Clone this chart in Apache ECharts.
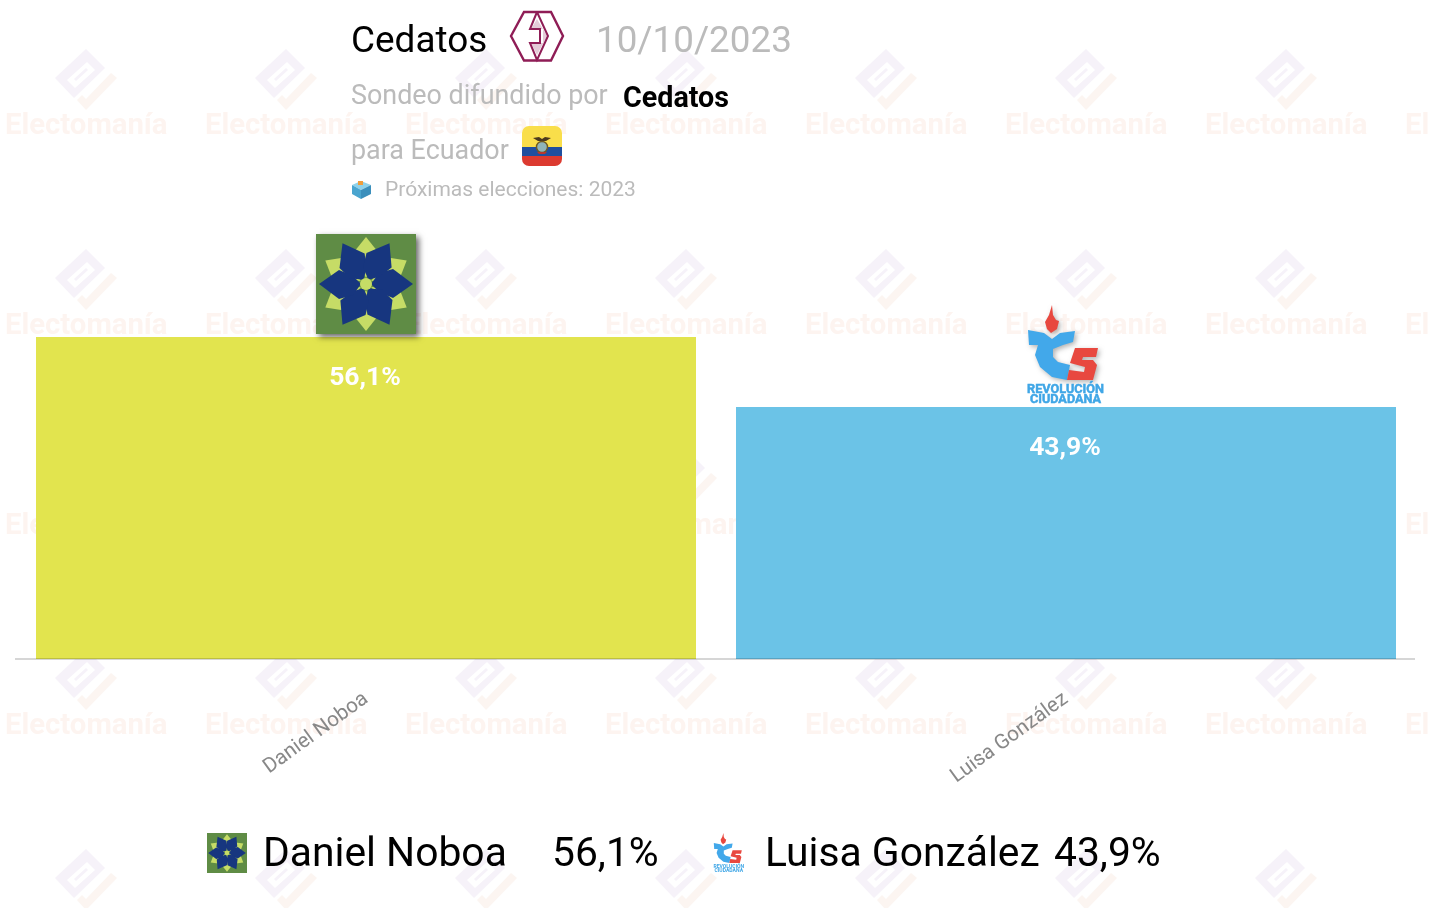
<!DOCTYPE html>
<html><head><meta charset="utf-8">
<style>html,body{margin:0;padding:0;background:#fff}#c{width:1430px;height:908px}</style>
<script src="https://cdn.jsdelivr.net/npm/echarts@6/dist/echarts.min.js"></script>
</head><body><div id="c"></div>
<script>
const candidates = ['Daniel Noboa', 'Luisa González'];
const voteShare = [56.1, 43.9];
const pollster = 'Cedatos';
const pollDate = '10/10/2023';
const subtitleLead = 'Sondeo difundido por';
const subtitleCountry = 'para Ecuador';
const nextElection = 'Próximas elecciones: 2023';
const watermarkText = 'Electomanía';

const FONT = 'Roboto';
const fmt = v => v.toFixed(1).replace('.', ',') + '%';
const g = [];
const txt = (x, y, text, size, fill, weight, z, extra) => g.push({type:'text', x, y, z: z===undefined?10:z, silent:true,
  style:Object.assign({text, fontFamily:FONT, fontSize:size, fontWeight:weight||'normal', fill, verticalAlign:'middle'}, extra||{})});
const poly = (pts, fill, z, extra) => g.push({type:'polygon', z: z===undefined?10:z, silent:true, shape:{points:pts}, style:Object.assign({fill}, extra||{})});

/* watermark tiles */
for (let r = 0; r < 5; r++) for (let c = 0; c < 8; c++) {
  const dx = c*200, dy = r*200;
  const P = a => a.map(p => [p[0]+dx, p[1]+dy]);
  poly(P([[86,49],[105,68],[74,98],[55,78]]), '#f6f2f9', -5);
  poly(P([[87,62],[67,80],[75,88],[95,70]]), '#ffffff', -5);
  poly(P([[86,68],[74,79],[76,81],[88,70]]), '#f6f2f9', -5);
  poly(P([[111,73],[117,78],[86,110],[77,100],[82,95],[86,99]]), '#fcf5f1', -5);
  txt(5+dx, 127+dy, watermarkText, 29.3, '#fdf4f0', 'bold', -5);
}

/* flower logo */
function flower(x, y, s, shadow) {
  g.push({type:'rect', z:10, silent:true, shape:{x, y, width:100*s, height:100*s},
    style: Object.assign({fill:'#5f8c45'}, shadow?{shadowBlur:6, shadowColor:'rgba(0,0,0,.6)', shadowOffsetX:3, shadowOffsetY:3}:{})});
  const cx = x+50*s, cy = y+50*s;
  const petal = (ang, prof, fill) => {
    const a = ang*Math.PI/180, co = Math.cos(a), si = Math.sin(a);
    poly(prof.map(p => [cx+s*(p[0]*co-p[1]*si), cy+s*(p[0]*si+p[1]*co)]), fill, 11);
  };
  for (let k=0;k<6;k++) petal(30+60*k, [[6,0],[32,-12],[47,0],[32,12]], '#c6dc66');
  for (let k=0;k<6;k++) petal(60*k, [[5,0],[13,-11],[27,-15],[47,0],[27,14],[13,8]], '#17367f');
  g.push({type:'circle', z:12, silent:true, shape:{cx, cy, r:6*s}, style:{fill:'#c6dc66'}});
}
flower(316, 234, 1, true);
flower(207, 833, 0.4, false);

/* RC5 logo */
function rc(x, y, s, big) {
  const P = a => a.map(p => [x+p[0]*s, y+p[1]*s]);
  const sh = big ? {shadowBlur:5, shadowColor:'rgba(0,0,0,.3)', shadowOffsetX:2, shadowOffsetY:2} : {};
  poly(P([[36,0],[33,10],[29,17],[31,24],[35,28],[41,24],[43,16],[40,15],[37,10]]), '#e8483f', 11, sh);
  poly(P([[12,25],[28,28],[36,34],[44,28],[59,26],[57,37],[47,40],[37,44],[37,52],[42,57],[54,60],[51,75],[36,72],[24,62],[19,50],[22,40],[13,40]]), '#42a8ea', 11, sh);
  poly(P([[59,43],[82,43],[80,52],[67,52],[66,55],[77,55],[81,60],[77,75],[51,75],[53,65],[68,67],[69,62],[54,58]]), '#e8483f', 12, sh);
  const f = big ? {align:'center', stroke:'#3fa6e6', lineWidth:0.5} : {align:'center'};
  txt(x+49.5*s, y+85*s, 'REVOLUCIÓN', 12.7*s, '#3fa6e6', 'bold', 12, f);
  txt(x+49.5*s, y+95*s, 'CIUDADANA', 12.7*s, '#3fa6e6', 'bold', 12, f);
}
rc(1016, 305, 1, true);
rc(709, 833, 0.4, false);

/* header text */
txt(351, 42.5, pollster, 36.9, '#000');
txt(596, 42.5, pollDate, 36.8, '#bbbbbb');
txt(351, 97.5, subtitleLead, 26.9, '#bbbbbb');
txt(623, 99.5, pollster, 28.7, '#000', 'bold');
txt(351, 152.5, subtitleCountry, 26.9, '#bbbbbb');
txt(385, 191, nextElection, 21, '#bbbbbb');

/* Cedatos logo */
const hexC = '#8f1d56';
g.push({type:'polygon', z:10, silent:true, shape:{points:[[511,36],[524,12],[551,12],[563,36],[551,60.5],[524,60.5]]}, style:{fill:'none', stroke:hexC, lineWidth:2.4}});
poly([[537,19],[547,36],[537,55],[531,43],[543,43],[543,29],[531,29]], '#e4cbd8', 10);
g.push({type:'polyline', z:11, silent:true, shape:{points:[[537,12],[548,36],[537,60],[530,43],[540,43],[540,29],[530,29],[537,12]]}, style:{fill:'none', stroke:hexC, lineWidth:2}});

/* flag */
g.push({type:'rect', z:10, silent:true, shape:{x:522,y:126,width:40,height:40,r:7}, style:{fill:{type:'linear',x:0,y:0,x2:0,y2:1,colorStops:[
  {offset:0,color:'#f9de4a'},{offset:.525,color:'#f9de4a'},{offset:.525,color:'#1f4f9f'},{offset:.75,color:'#1f4f9f'},{offset:.75,color:'#dc3a30'},{offset:1,color:'#dc3a30'}]}}});
poly([[533,138],[539,137],[542,139],[545,137],[551,138],[546,141],[538,141]], '#4b3a1e', 11);
g.push({type:'circle', z:11, silent:true, shape:{cx:542,cy:147,r:5.5}, style:{fill:'#8fb4b8', stroke:'#6f5a20', lineWidth:1.4}});
poly([[537,152],[547,152],[545,154],[539,154]], '#b8372c', 11);

/* ballot box */
poly([[352,185],[361,181],[371,185],[361,190]], '#8fd2ea', 10);
poly([[352,185],[361,190],[361,199],[352,194]], '#4aa5cf', 10);
poly([[361,190],[371,185],[371,194],[361,199]], '#3b8fbc', 10);
poly([[358,181],[363,181],[363,185],[358,185]], '#ef9d3c', 11);

/* legend */
const legendNameX = [263, 765], legendValX = [552, 1054];
candidates.forEach((n,i) => {
  txt(legendNameX[i], 856, n, 40.8, '#000');
  txt(legendValX[i], 856, fmt(voteShare[i]), 40.8, '#000');
});

/* baseline */
g.push({type:'rect', z:10, silent:true, shape:{x:15, y:658, width:1400, height:2}, style:{fill:'rgba(0,0,0,0.16)'}});

const barColors = ['#e2e44e', '#6bc3e7'];
const chart = echarts.init(document.getElementById('c'), null, {renderer:'canvas'});
chart.setOption({
  animation:false,
  backgroundColor:'#ffffff',
  grid:{left:16, width:1400, top:85, height:574},
  xAxis:{type:'category', data:candidates,
    axisLine:{show:false}, axisTick:{show:false},
    axisLabel:{rotate:36, fontFamily:FONT, fontSize:20.7, color:'#888888', margin:38, interval:0}},
  yAxis:{type:'value', min:0, max:100, show:false},
  series:[{type:'bar', data:voteShare.map((v,i)=>({value:v, itemStyle:{color:barColors[i]}})),
    barWidth:660, z:2,
    label:{show:true, position:'insideTop', distance:28, offset:[-1,0], formatter:p=>fmt(p.value), fontFamily:FONT, fontSize:26.5, fontWeight:'bold', color:'#fff'}}],
  graphic:{elements:g}
});
</script></body></html>
